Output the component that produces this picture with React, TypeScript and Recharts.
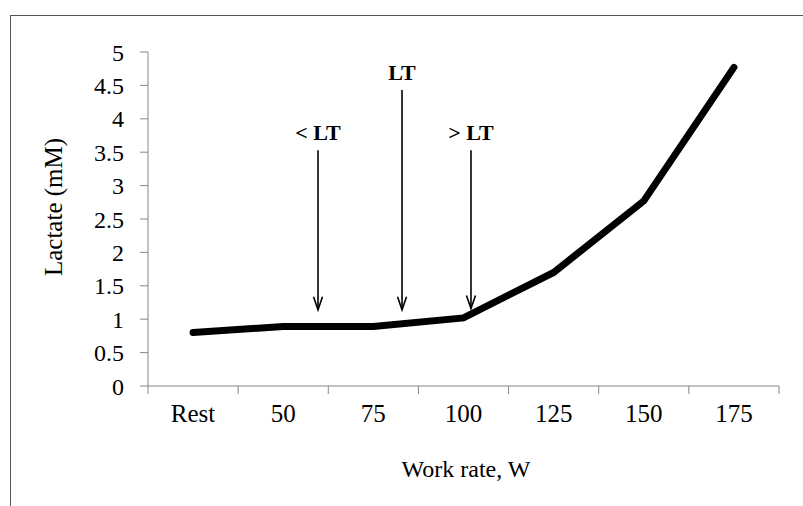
import React from "react"
import { LineChart, Line, XAxis, YAxis, ReferenceLine } from "recharts"

const categories = ["Rest", "50", "75", "100", "125", "150", "175"]
const lactate = [0.8, 0.89, 0.89, 1.02, 1.7, 2.77, 4.77]
const yTicks = [0, 0.5, 1, 1.5, 2, 2.5, 3, 3.5, 4, 4.5, 5]

// arrows: label, x position (in category units), top and tip values
const arrowLabels = ["< LT", "LT", "> LT"]
const arrowX = [1.886, 2.818, 3.583]
const arrowTop = [3.53, 4.43, 3.53]
const arrowTip = [1.14, 1.14, 1.16]

const W = 803
const H = 506
const margin = { top: 52, right: 24, bottom: 40, left: 0 }
const yAxisWidth = 148
const band = (W - margin.left - margin.right - yAxisWidth) / categories.length

const data = categories.map((c, i) => ({ x: i + 0.5, name: c, lactate: lactate[i] }))
const xTicks = categories.map((_, i) => i).concat([categories.length])

const serif = "'Liberation Serif', 'Times New Roman', serif"

function XTick(props: any) {
  const { x, y, payload } = props
  const idx = payload.value
  if (idx >= categories.length) return null
  return (
    <text x={x + band / 2} y={y} dy="0.71em" textAnchor="middle" fontFamily={serif} fontSize={25} fill="#000">
      {categories[idx]}
    </text>
  )
}

function Arrow(props: any) {
  const { x1, y1, x2, y2, label } = props
  return (
    <g>
      <text x={x1} y={y1 - 10} textAnchor="middle" fontFamily={serif} fontWeight="bold" fontSize={22} fill="#000">
        {label}
      </text>
      <line x1={x1} y1={y1} x2={x2} y2={y2} stroke="#000" strokeWidth={1.6} />
      <path d={`M${x2 - 4.5},${y2 - 13} L${x2},${y2} L${x2 + 4.5},${y2 - 13}`} fill="none" stroke="#000" strokeWidth={1.6} />
    </g>
  )
}

export default function App() {
  return (
    <div style={{ position: "fixed", left: 0, top: 0, width: W, height: H, overflow: "hidden", background: "#fff" }}>
      <div style={{ position: "absolute", left: 10, top: 15, width: 900, height: 600, border: "1px solid #555" }} />
      <div style={{ position: "absolute", left: 0, top: 0 }}>
        <LineChart width={W} height={H} data={data} margin={margin}>
          <XAxis
            dataKey="x"
            type="number"
            domain={[0, categories.length]}
            ticks={xTicks}
            interval={0}
            height={80}
            stroke="#888"
            tickSize={8}
            tickMargin={10}
            tick={<XTick />}
            label={{
              content: (p: any) => (
                <text x={466} y={p.viewBox.y + 91} textAnchor="middle" fontFamily={serif} fontSize={24} fill="#000">
                  Work rate, W
                </text>
              ),
            }}
          />
          <YAxis
            type="number"
            domain={[0, 5]}
            ticks={yTicks}
            interval={0}
            width={yAxisWidth}
            stroke="#888"
            tickSize={8}
            tickMargin={16}
            tick={{ fill: "#000", fontFamily: serif, fontSize: 24 }}
            label={{
              content: (p: any) => (
                <text
                  transform={`translate(${p.viewBox.x + 62}, ${p.viewBox.y + p.viewBox.height / 2 - 12}) rotate(-90)`}
                  textAnchor="middle"
                  fontFamily={serif}
                  fontSize={25}
                  fill="#000"
                >
                  Lactate (mM)
                </text>
              ),
            }}
          />
          {arrowLabels.map((l, i) => (
            <ReferenceLine
              key={l}
              segment={[
                { x: arrowX[i], y: arrowTop[i] },
                { x: arrowX[i], y: arrowTip[i] },
              ]}
              shape={(p: any) => <Arrow {...p} label={l} />}
            />
          ))}
          <Line
            dataKey="lactate"
            stroke="#000"
            strokeWidth={7}
            strokeLinecap="round"
            dot={false}
            activeDot={false}
            isAnimationActive={false}
          />
        </LineChart>
      </div>
    </div>
  )
}
